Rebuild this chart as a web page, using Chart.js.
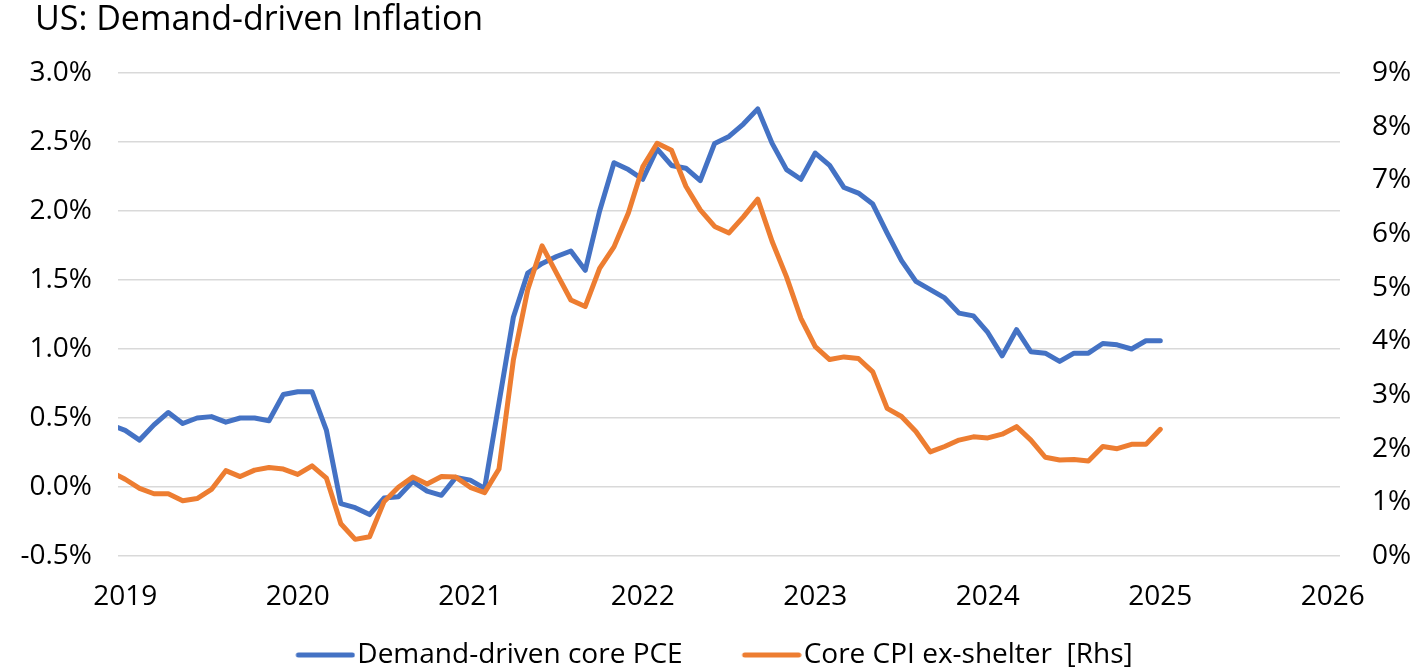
<!DOCTYPE html>
<html>
<head>
<meta charset="utf-8">
<title>US: Demand-driven Inflation</title>
<script src="https://cdn.jsdelivr.net/npm/chart.js@4.4.1/dist/chart.umd.min.js"></script>
<style>
  html, body { margin: 0; padding: 0; background: #fff; overflow: hidden; }
</style>
</head>
<body>
<canvas id="myChart" width="1420" height="669"></canvas>
<script>
// monthly observations, Dec 2018 .. Jan 2025
const firstYear = 2018;
const firstMonth = 12;

const demandPce = [
  0.45,
  0.41, 0.34, 0.45, 0.54, 0.46, 0.50, 0.51, 0.47, 0.50, 0.50, 0.48, 0.67,     // 2019
  0.69, 0.69, 0.41, -0.12, -0.15, -0.20, -0.08, -0.07, 0.04, -0.03, -0.06, 0.07, // 2020
  0.05, -0.01, 0.61, 1.23, 1.55, 1.62, 1.67, 1.71, 1.57, 2.00, 2.35, 2.30,   // 2021
  2.23, 2.45, 2.33, 2.31, 2.22, 2.49, 2.54, 2.63, 2.74, 2.49, 2.30, 2.23,    // 2022
  2.42, 2.33, 2.17, 2.13, 2.05, 1.84, 1.64, 1.49, 1.43, 1.37, 1.26, 1.24,    // 2023
  1.12, 0.95, 1.14, 0.98, 0.97, 0.91, 0.97, 0.97, 1.04, 1.03, 1.00, 1.06,    // 2024
  1.06                                                                       // 2025
];

const coreCpiExShelter = [
  1.57,
  1.43, 1.26, 1.16, 1.16, 1.03, 1.07, 1.24, 1.59, 1.48, 1.60, 1.65, 1.62,    // 2019
  1.52, 1.68, 1.45, 0.60, 0.31, 0.36, 1.01, 1.28, 1.47, 1.34, 1.48, 1.47,    // 2020
  1.28, 1.18, 1.62, 3.65, 4.96, 5.78, 5.27, 4.77, 4.65, 5.36, 5.76, 6.39,    // 2021
  7.25, 7.69, 7.56, 6.89, 6.45, 6.14, 6.02, 6.32, 6.65, 5.86, 5.20, 4.43,    // 2022
  3.90, 3.66, 3.71, 3.68, 3.43, 2.75, 2.60, 2.32, 1.94, 2.04, 2.16, 2.22,    // 2023
  2.20, 2.27, 2.41, 2.16, 1.84, 1.79, 1.80, 1.77, 2.04, 2.00, 2.08, 2.08,    // 2024
  2.36                                                                       // 2025
];

const yearTicks = [2019, 2020, 2021, 2022, 2023, 2024, 2025, 2026];
const leftTicks = [-0.5, 0, 0.5, 1.0, 1.5, 2.0, 2.5, 3.0];
const rightTicks = [0, 1, 2, 3, 4, 5, 6, 7, 8, 9];

const seriesNames = ['Demand-driven core PCE', 'Core CPI ex-shelter  [Rhs]'];

// month index -> fractional year
const months = demandPce.map((_, i) => firstYear + (firstMonth - 1 + i) / 12);

const toPoints = (vals) => vals.map((v, i) => ({ x: months[i], y: v }));

// legend sample: short line sitting just left of the label text
function legendLine(color) {
  const c = document.createElement('canvas');
  c.width = 121;
  c.height = 10;
  const g = c.getContext('2d');
  g.strokeStyle = color;
  g.lineWidth = 5;
  g.lineCap = 'round';
  g.beginPath();
  g.moveTo(64, 5);
  g.lineTo(118, 5);
  g.stroke();
  return c;
}

// title sits a bit in from the left edge, legend a bit left of centre
const nudgeBoxes = {
  id: 'nudgeBoxes',
  afterLayout(chart) {
    chart.titleBlock.left = 35;
    chart.legend.right -= 41;
  }
};

Chart.defaults.font.family = "'Open Sans', sans-serif";
Chart.defaults.color = '#000';

const ctx = document.getElementById('myChart');

new Chart(ctx, {
  type: 'line',
  data: {
    datasets: [{
      label: seriesNames[0],
      data: toPoints(demandPce),
      yAxisID: 'y',
      borderColor: '#4472C4',
      backgroundColor: '#4472C4',
      order: 1
    }, {
      label: seriesNames[1],
      data: toPoints(coreCpiExShelter),
      yAxisID: 'y1',
      borderColor: '#ED7D31',
      backgroundColor: '#ED7D31',
      order: 0
    }]
  },
  plugins: [nudgeBoxes],
  options: {
    responsive: false,
    animation: false,
    events: [],
    layout: { padding: { left: 0, right: 0, top: 0, bottom: -10 } },
    elements: {
      line: { borderWidth: 5, tension: 0, borderJoinStyle: 'round', borderCapStyle: 'round' },
      point: { radius: 0 }
    },
    scales: {
      x: {
        type: 'linear',
        min: yearTicks[0] - 1 / 24,
        max: yearTicks[yearTicks.length - 1] + 1 / 24,
        afterBuildTicks: (scale) => { scale.ticks = yearTicks.map(v => ({ value: v })); },
        afterFit: (scale) => { scale.height = 75; },
        grid: { display: false, drawTicks: false },
        border: { display: false },
        ticks: {
          padding: 24,
          maxRotation: 0,
          autoSkip: false,
          font: { size: 28 },
          callback: (v) => String(v)
        }
      },
      y: {
        position: 'left',
        min: leftTicks[0],
        max: leftTicks[leftTicks.length - 1],
        afterBuildTicks: (scale) => { scale.ticks = leftTicks.map(v => ({ value: v })); },
        afterFit: (scale) => { scale.width = 118; },
        grid: { color: '#d9d9d9', lineWidth: 1.5, drawTicks: false },
        border: { display: false },
        ticks: {
          padding: 26,
          font: { size: 28 },
          callback: (v) => v.toFixed(1) + '%'
        }
      },
      y1: {
        position: 'right',
        min: rightTicks[0],
        max: rightTicks[rightTicks.length - 1],
        afterBuildTicks: (scale) => { scale.ticks = rightTicks.map(v => ({ value: v })); },
        afterFit: (scale) => { scale.width = 80; },
        grid: { display: false, drawTicks: false },
        border: { display: false },
        ticks: {
          padding: 32,
          font: { size: 28 },
          callback: (v) => v + '%'
        }
      }
    },
    plugins: {
      tooltip: { enabled: false },
      title: {
        display: true,
        text: 'US: Demand-driven Inflation',
        align: 'start',
        color: '#000',
        font: { size: 34, weight: 'normal', lineHeight: 1.2 },
        padding: { top: 0, bottom: 32.2 }
      },
      legend: {
        position: 'bottom',
        labels: {
          usePointStyle: true,
          pointStyleWidth: 97,
          padding: 10,
          color: '#000',
          font: { size: 28 },
          generateLabels: (chart) => chart.data.datasets.map((ds, i) => ({
            text: ds.label,
            pointStyle: legendLine(ds.borderColor),
            fillStyle: ds.borderColor,
            strokeStyle: ds.borderColor,
            lineWidth: 0,
            hidden: false,
            datasetIndex: i
          }))
        }
      }
    }
  }
});
</script>
</body>
</html>
